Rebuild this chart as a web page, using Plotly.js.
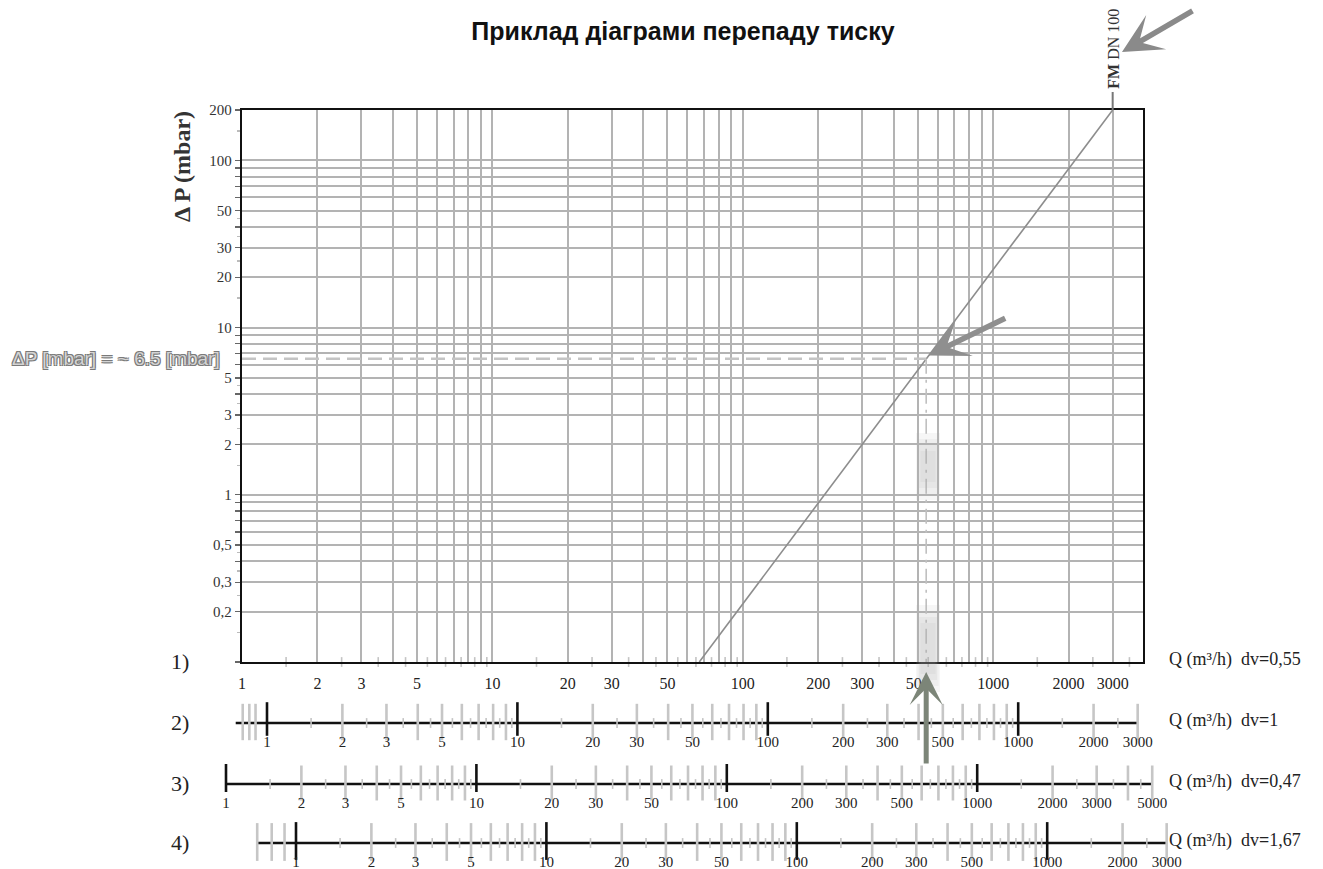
<!DOCTYPE html>
<html><head><meta charset="utf-8">
<script src="https://cdn.plot.ly/plotly-3.0.1.min.js"></script>
<style>html,body{margin:0;padding:0;background:#fff}#chart{width:1323px;height:869px}</style>
</head><body><div id="chart"></div>
<script>
// ---------------- data ----------------
const fmQ = [67, 3000];            // Q (m3/h) of the FM DN 100 characteristic
const fmDP = [0.1, 200];           // ΔP (mbar)
const readDP = 6.5;                // read-off pressure drop
const readQ = 540;                 // read-off flow
const decades = [0.1, 1, 10, 100, 1000];
const gridMultipliers = [1, 2, 3, 4, 5, 6, 7, 8, 9];
const halfMultipliers = [1.5, 2.5, 3.5, 4.5, 5.5, 6.5, 7.5, 8.5, 9.5];
const dpTickVals = [0.2, 0.3, 0.5, 1, 2, 3, 5, 10, 20, 30, 50, 100, 200];
const dpTickText = ['0,2', '0,3', '0,5', '1', '2', '3', '5', '10', '20', '30', '50', '100', '200'];
const qTickVals = [1, 2, 3, 5, 10, 20, 30, 50, 100, 200, 300, 500, 1000, 2000, 3000];
const qTickVals3 = [1, 2, 3, 5, 10, 20, 30, 50, 100, 200, 300, 500, 1000, 2000, 3000, 5000];
const scaleNames = ['1)', '2)', '3)', '4)'];
const scaleDv = ['0,55', '1', '0,47', '1,67'];
const scaleStart = [1, 0.75, 1, 0.7];
const scaleEnd = [4000, 3000, 5000, 3000];
const scaleExtraTicks = [[], [0.85], [], []];
const scaleMajor = [[], [1, 10, 100, 1000], [1, 10, 100, 1000], [1, 10, 100, 1000]];
const scaleLabels = [qTickVals, qTickVals, qTickVals3, qTickVals];

// ---------------- layout helpers ----------------
const W = 1323, H = 869, DEC = 250.4;
const fx = px => px / W;
const fy = py => 1 - py / H;
const onePx = [242, 267, 226, 296];      // pixel of Q = 1 on each scale
const linePx = [662, 723, 784, 843];     // pixel row of each scale line
const grayTick = [null, {c: 1, s: 26}, {c: 1, s: 25}, {c: 1, s: 27}];
const majorTick = [null, {c: 4, s: 24}, {c: 6, s: 20}, {c: 2, s: 27}];
const serif = 'Liberation Serif, Times New Roman, serif';
const sans = 'Liberation Sans, Arial, sans-serif';
const GRID = '#b3b3b3';

const r6 = v => Number(v.toPrecision(6));
const mult = (ms, lo, hi) => decades.flatMap(d => ms.map(m => r6(m * d))).filter(v => v >= lo * 0.999 && v <= hi * 1.001);

const traces = [];
// FM DN 100 line
traces.push({x: fmQ, y: fmDP, mode: 'lines', line: {color: '#8d8d8d', width: 1.6}, xaxis: 'x', yaxis: 'y', hoverinfo: 'skip', showlegend: false});
// small half ticks on scale 1
const half1 = mult(halfMultipliers, 1, 3600);
traces.push({x: half1, y: half1.map(() => fmDP[0]), mode: 'markers', cliponaxis: false,
  marker: {symbol: 'line-ns', size: 7, line: {color: '#c4c4c4', width: 1.6}}, xaxis: 'x', yaxis: 'y', hoverinfo: 'skip', showlegend: false});

const layout = {
  width: W, height: H, margin: {l: 0, r: 0, t: 0, b: 0}, paper_bgcolor: '#fff', plot_bgcolor: '#fff', showlegend: false,
  title: {text: 'Приклад діаграми перепаду тиску', font: {family: sans, size: 25, weight: 'bold', color: '#111'},
    x: fx(683), xanchor: 'center', y: fy(31), yanchor: 'middle', xref: 'paper', yref: 'paper'},
  xaxis: {type: 'log', domain: [fx(242), fx(1143)], range: [0, (1143 - 242) / DEC], anchor: 'y',
    tickvals: mult(gridMultipliers, 1, 3600), ticktext: mult(gridMultipliers, 1, 3600).map(v => qTickVals.includes(v) ? String(v) : ''),
    showgrid: true, gridcolor: GRID, gridwidth: 2, showline: true, linecolor: '#111', linewidth: 2.2, mirror: true,
    ticks: 'outside', ticklen: 6, tickcolor: 'rgba(0,0,0,0)', tickfont: {family: serif, size: 16, color: '#222'}, zeroline: false, fixedrange: true},
  yaxis: {type: 'log', domain: [fy(662), fy(110)], range: [-1, Math.log10(200)], anchor: 'x',
    tickvals: mult(gridMultipliers, 0.1, 200), ticktext: mult(gridMultipliers, 0.1, 200).map(v => {const i = dpTickVals.indexOf(v); return i >= 0 ? dpTickText[i] : '';}),
    showgrid: true, gridcolor: GRID, gridwidth: 2, showline: true, linecolor: '#111', linewidth: 2.2, mirror: true,
    ticks: 'outside', ticklen: 5, tickwidth: 1.4, tickcolor: '#666', tickfont: {family: serif, size: 15, color: '#333'},
    minor: {tickvals: mult(halfMultipliers.slice(0, 4), 0.1, 200).concat([150]), ticks: 'outside', ticklen: 3, tickcolor: '#bbb', tickwidth: 1.4, showgrid: false},
    zeroline: false, fixedrange: true},
  shapes: [], annotations: []
};

// lower scales 2..4
for (let k = 1; k < 4; k++) {
  const n = k + 1, xa = 'x' + n, ya = 'y' + n, L = linePx[k], p = onePx[k];
  layout['xaxis' + n] = {type: 'log', domain: [fx(180), fx(1220)], range: [(180 - p) / DEC, (1220 - p) / DEC], anchor: ya,
    tickvals: scaleLabels[k], ticktext: scaleLabels[k].map(String), showgrid: false, showline: false, zeroline: false,
    ticks: 'outside', ticklen: 0, tickcolor: 'rgba(0,0,0,0)', tickfont: {family: serif, size: 15, color: '#222'}, fixedrange: true};
  layout['yaxis' + n] = {domain: [fy(L + 5), fy(L - 25)], range: [-5, 25], visible: false, anchor: xa, fixedrange: true};
  const s = scaleStart[k], e = scaleEnd[k];
  traces.push({x: [s, e], y: [0, 0], mode: 'lines', line: {color: '#111', width: 2.4}, xaxis: xa, yaxis: ya, hoverinfo: 'skip'});
  const gray = mult(gridMultipliers.slice(1), s, e).concat(scaleExtraTicks[k]);
  traces.push({x: gray, y: gray.map(() => grayTick[k].c), mode: 'markers', cliponaxis: false,
    marker: {symbol: 'line-ns', size: grayTick[k].s, line: {color: '#c6c6c6', width: 2.6}}, xaxis: xa, yaxis: ya, hoverinfo: 'skip'});
  const half = mult(halfMultipliers, 1, e);
  traces.push({x: half, y: half.map(() => 0), mode: 'markers', cliponaxis: false,
    marker: {symbol: 'line-ns', size: 7, line: {color: '#c4c4c4', width: 1.6}}, xaxis: xa, yaxis: ya, hoverinfo: 'skip'});
  traces.push({x: scaleMajor[k], y: scaleMajor[k].map(() => majorTick[k].c), mode: 'markers', cliponaxis: false,
    marker: {symbol: 'line-ns', size: majorTick[k].s, line: {color: '#111', width: 2.6}}, xaxis: xa, yaxis: ya, hoverinfo: 'skip'});
}

// scale names and right-hand labels
for (let k = 0; k < 4; k++) {
  layout.annotations.push({text: scaleNames[k], xref: 'paper', yref: 'paper', x: fx(180), y: fy(linePx[k] - 1), xanchor: 'center', yanchor: 'middle',
    showarrow: false, font: {family: serif, size: 22, color: '#222'}});
  layout.annotations.push({text: 'Q (m³/h)\u00a0\u00a0dv<b>=</b>' + scaleDv[k], xref: 'paper', yref: 'paper', x: fx(1167), y: fy(linePx[k] - 3),
    xanchor: 'left', yanchor: 'middle', showarrow: false, font: {family: serif, size: 18, color: '#222'}});
}

// y-axis title
layout.annotations.push({text: 'Δ P (mbar)', xref: 'paper', yref: 'paper', x: fx(182), y: fy(167), textangle: -90, xanchor: 'center', yanchor: 'middle',
  showarrow: false, font: {family: serif, size: 24, weight: 'bold', color: '#333'}});
// FM DN 100 label
layout.annotations.push({text: '<b>FM</b> DN 100', xref: 'x', yref: 'paper', x: Math.log10(fmQ[1]), y: fy(49), textangle: -90, xanchor: 'center', yanchor: 'middle',
  showarrow: false, font: {family: serif, size: 16, color: '#333'}});
// read-off label
layout.annotations.push({text: 'ΔP [mbar] = ~ 6.5 [mbar]', xref: 'paper', yref: 'y', x: fx(222), y: Math.log10(readDP), xanchor: 'right', yanchor: 'middle',
  showarrow: false, font: {family: sans, size: 19, color: '#d4d4d4', shadow: '-1px -1px 0 #7a7a7a, 1px -1px 0 #7a7a7a, -1px 1px 0 #7a7a7a, 1px 1px 0 #7a7a7a'}});
// arrows
layout.annotations.push({text: '', xref: 'paper', yref: 'paper', x: fx(1122), y: fy(52), ax: 72, ay: -42, showarrow: true,
  arrowhead: 3, arrowsize: 1.2, arrowwidth: 5.5, arrowcolor: '#8a8a8a'});
layout.annotations.push({text: '', xref: 'x', yref: 'y', x: Math.log10(readQ) + 0.01, y: Math.log10(readDP) + 0.02, ax: 78, ay: -38, showarrow: true,
  arrowhead: 3, arrowsize: 1.2, arrowwidth: 5.5, arrowcolor: '#8f8f8f'});
layout.annotations.push({text: '', xref: 'x', yref: 'paper', x: Math.log10(readQ), y: fy(672), ax: 0, ay: 93, showarrow: true,
  arrowhead: 3, arrowsize: 1.1, arrowwidth: 5, arrowcolor: '#7c8578'});

// shapes
layout.shapes.push({type: 'line', xref: 'x', yref: 'paper', x0: fmQ[1], x1: fmQ[1], y0: fy(110), y1: fy(92), line: {color: '#777', width: 2}});
layout.shapes.push({type: 'line', xref: 'x', yref: 'y', x0: 1, x1: readQ, y0: readDP, y1: readDP, line: {color: '#c4c4c4', width: 2.5, dash: '14px,7px'}});
layout.shapes.push({type: 'line', xref: 'x', yref: 'y', x0: readQ, x1: readQ, y0: readDP, y1: fmDP[0], line: {color: '#c0c0c0', width: 1.6, dash: 'longdashdot'}});
[[433, 500], [605, 692]].forEach(([a, b]) => {
  [0, 3, 6, 9].forEach(d => layout.shapes.push({type: 'rect', xref: 'paper', yref: 'paper', x0: fx(916 + d / 2), x1: fx(940 - d / 2), y0: fy(b - d * 2), y1: fy(a + d * 2),
    fillcolor: 'rgba(170,170,170,0.11)', line: {width: 0}, layer: 'above'}));
});

Plotly.newPlot('chart', traces, layout, {staticPlot: true, displayModeBar: false});
</script></body></html>
